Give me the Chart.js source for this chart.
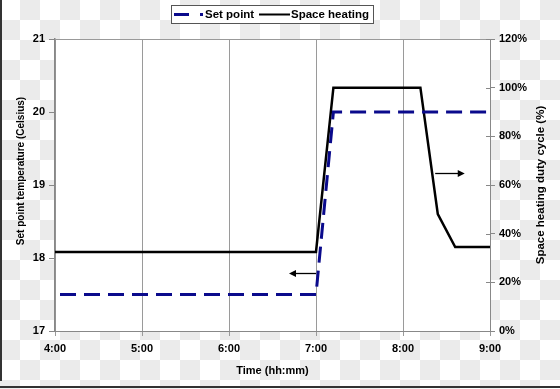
<!DOCTYPE html>
<html>
<head>
<meta charset="utf-8">
<script src="https://cdn.jsdelivr.net/npm/chart.js@4"></script>
<style>
  html, body { margin: 0; padding: 0; }
  body {
    width: 560px; height: 389px; overflow: hidden;
    background: repeating-conic-gradient(#ebebeb 0 25%, #ffffff 0 50%) 0 0 / 40px 40px;
  }
  canvas { display: block; }
</style>
</head>
<body>
<canvas id="c" width="560" height="389"></canvas>
<script>
// ---- data ----
const timeTickLabels = ['4:00', '5:00', '6:00', '7:00', '8:00', '9:00'];
const setpointTimes = [4, 7, 7.2, 9];            // hours
const setpointValues = [17.5, 17.5, 20.0, 20.0]; // Celsius
const heatingTimes = [4, 7, 7.2, 8.2, 8.4, 8.6, 9];        // hours
const heatingValues = [32.5, 32.5, 100, 100, 48, 34.5, 34.5]; // %
const legendLabels = ['Set point', 'Space heating'];
const axisTitles = ['Time (hh:mm)', 'Set point temperature (Celsius)', 'Space heating duty cycle (%)'];
// annotation arrows: [fromTime, toTime, value, axis]
const arrowLeft = [7.0, 6.69, 17.8, 'y'];
const arrowRight = [8.37, 8.71, 65, 'y1'];

const BLUE = '#0a0a8c';
const FONT = 'Liberation Sans, Arial, sans-serif';

function drawArrow(ctx, x1, x2, y) {
  ctx.save();
  ctx.strokeStyle = '#000';
  ctx.fillStyle = '#000';
  ctx.lineWidth = 1.3;
  const dir = Math.sign(x2 - x1);
  ctx.beginPath();
  ctx.moveTo(x1, y);
  ctx.lineTo(x2 - dir * 5, y);
  ctx.stroke();
  ctx.beginPath();
  ctx.moveTo(x2, y);
  ctx.lineTo(x2 - dir * 7, y - 3.5);
  ctx.lineTo(x2 - dir * 7, y + 3.5);
  ctx.closePath();
  ctx.fill();
  ctx.restore();
}

const decor = {
  id: 'decor',
  beforeDraw(chart) {
    const {ctx, chartArea: a} = chart;
    ctx.save();
    ctx.fillStyle = '#fff';
    ctx.fillRect(a.left, a.top, a.right - a.left, a.bottom - a.top);
    // outer frame pieces of the picture
    ctx.fillStyle = '#333';
    ctx.fillRect(0, 0, 2, 381);
    ctx.fillRect(0, 386, 560, 2);
    ctx.restore();
  },
  afterDraw(chart) {
    const {ctx, chartArea: a, scales} = chart;
    ctx.save();
    // top border
    ctx.strokeStyle = '#999';
    ctx.lineWidth = 1;
    ctx.beginPath();
    ctx.moveTo(a.left, a.top + 0.5);
    ctx.lineTo(a.right, a.top + 0.5);
    ctx.stroke();
    // inside ticks of right axis
    ctx.strokeStyle = '#888';
    scales.y1.ticks.forEach(t => {
      const yy = Math.round(scales.y1.getPixelForValue(t.value)) + 0.5;
      ctx.beginPath();
      ctx.moveTo(a.right - 4, yy);
      ctx.lineTo(a.right, yy);
      ctx.stroke();
    });
    // arrows
    drawArrow(ctx, scales.x.getPixelForValue(arrowLeft[0]), scales.x.getPixelForValue(arrowLeft[1]),
      Math.round(scales[arrowLeft[3]].getPixelForValue(arrowLeft[2])) + 0.5);
    drawArrow(ctx, scales.x.getPixelForValue(arrowRight[0]), scales.x.getPixelForValue(arrowRight[1]),
      Math.round(scales[arrowRight[3]].getPixelForValue(arrowRight[2])) + 0.5);

    // axis titles (both read bottom to top)
    ctx.fillStyle = '#000';
    ctx.textAlign = 'center';
    ctx.textBaseline = 'middle';
    ctx.save();
    ctx.translate(21, 171);
    ctx.rotate(-Math.PI / 2);
    ctx.font = 'bold 10px ' + FONT;
    ctx.fillText(axisTitles[1], 0, 0);
    ctx.restore();
    ctx.save();
    ctx.translate(540.5, 185);
    ctx.rotate(-Math.PI / 2);
    ctx.font = 'bold 11.5px ' + FONT;
    ctx.fillText(axisTitles[2], 0, 0);
    ctx.restore();

    // legend
    ctx.fillStyle = '#fff';
    ctx.fillRect(171, 5, 202, 18);
    ctx.strokeStyle = '#555';
    ctx.lineWidth = 1;
    ctx.strokeRect(171.5, 5.5, 202, 18);
    ctx.strokeStyle = BLUE;
    ctx.lineWidth = 3;
    ctx.setLineDash([15, 11]);
    ctx.beginPath();
    ctx.moveTo(174, 14.5);
    ctx.lineTo(203, 14.5);
    ctx.stroke();
    ctx.setLineDash([]);
    ctx.strokeStyle = '#000';
    ctx.lineWidth = 2;
    ctx.beginPath();
    ctx.moveTo(259, 14.5);
    ctx.lineTo(290, 14.5);
    ctx.stroke();
    ctx.fillStyle = '#000';
    ctx.textAlign = 'left';
    ctx.font = 'bold 11.5px ' + FONT;
    ctx.fillText(legendLabels[0], 205, 15);
    ctx.fillText(legendLabels[1], 291, 15);
    ctx.restore();
  }
};

const tickFont = {family: FONT, size: 11, weight: 'bold'};

new Chart(document.getElementById('c'), {
  type: 'line',
  data: {
    datasets: [
      {
        label: legendLabels[0],
        data: setpointTimes.map((t, i) => ({x: t, y: setpointValues[i]})),
        yAxisID: 'y',
        borderColor: BLUE,
        borderWidth: 3,
        borderDash: [16, 8],
        borderDashOffset: 19,
        pointRadius: 0,
        tension: 0,
        fill: false
      },
      {
        label: legendLabels[1],
        data: heatingTimes.map((t, i) => ({x: t, y: heatingValues[i]})),
        yAxisID: 'y1',
        borderColor: '#000',
        borderWidth: 2.5,
        pointRadius: 0,
        tension: 0,
        fill: false
      }
    ]
  },
  options: {
    responsive: false,
    animation: false,
    devicePixelRatio: 1,
    layout: {padding: {top: 39, left: 0, right: 0, bottom: 0}},
    plugins: {legend: {display: false}, tooltip: {enabled: false}},
    scales: {
      x: {
        type: 'linear', position: 'bottom', min: 4, max: 9,
        ticks: {
          stepSize: 1, autoSkip: false, maxRotation: 0, color: '#000', font: tickFont, padding: 6,
          callback: v => timeTickLabels[Math.round(v - 4)]
        },
        grid: {color: '#9a9a9a', tickLength: 5, lineWidth: 1},
        border: {color: '#888', width: 1},
        title: {display: true, text: axisTitles[0], color: '#000',
                font: {family: FONT, size: 11, weight: 'bold'}, padding: {top: 0, bottom: 11}},
        afterFit: s => { s.height = 58; }
      },
      y: {
        position: 'left', min: 17, max: 21,
        ticks: {stepSize: 1, color: '#000', font: tickFont, padding: 4},
        grid: {drawOnChartArea: false, tickLength: 6, color: '#888'},
        border: {color: '#888', width: 1.5},
        afterFit: s => { s.width = 55; }
      },
      y1: {
        position: 'right', min: 0, max: 120,
        ticks: {stepSize: 20, color: '#000', font: tickFont, padding: 4, callback: v => v + '%'},
        grid: {drawOnChartArea: false, tickLength: 5, color: '#888'},
        border: {color: '#888', width: 1},
        afterFit: s => { s.width = 70; }
      }
    }
  },
  plugins: [decor]
});
</script>
</body>
</html>
